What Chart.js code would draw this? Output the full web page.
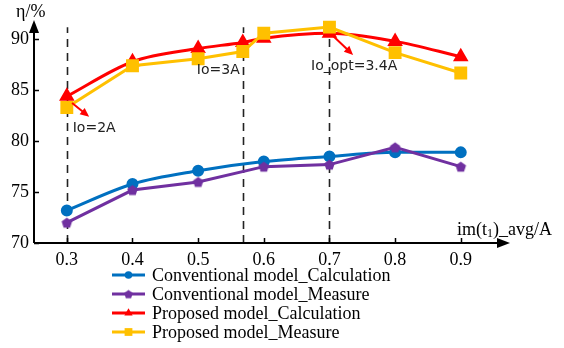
<!DOCTYPE html>
<html>
<head>
<meta charset="utf-8">
<script src="https://cdn.jsdelivr.net/npm/chart.js@4/dist/chart.umd.min.js"></script>
<style>
  html, body { margin: 0; padding: 0; background: #fff; }
  #wrap { width: 564px; height: 348px; }
</style>
</head>
<body>
<div id="wrap"><canvas id="chart" width="564" height="348"></canvas></div>
<script>
// data
const xConv = [0.3, 0.4, 0.5, 0.6, 0.7, 0.8, 0.9];
const convCalc = [73.2, 75.8, 77.1, 78.0, 78.5, 78.9, 78.9];
const convMeas = [72.0, 75.2, 76.0, 77.5, 77.7, 79.4, 77.5];

const xProp = [0.3, 0.4, 0.5, 0.568, 0.6, 0.7, 0.8, 0.9];
const propCalc = [84.4, 87.8, 89.1, 89.7, 90.1, 90.6, 89.8, 88.3];
const propMeas = [83.3, 87.4, 88.1, 88.8, 90.6, 91.2, 88.7, 86.7];

const xTicks = [0.3, 0.4, 0.5, 0.6, 0.7, 0.8, 0.9];
const yTicks = [70, 75, 80, 85, 90];

const seriesNames = [
    'Conventional model_Calculation',
    'Conventional model_Measure',
    'Proposed model_Calculation',
    'Proposed model_Measure'
];

// dashed marker lines and the notes on them
const markLines = [0.3, 0.568, 0.7];
const notes = [
    { text: 'Io=2A', x: 0.309, y: 81.3, from: [0.308, 83.75], to: [0.334, 82.4] },
    { text: 'Io=3A', x: 0.498, y: 86.95 },
    { text: 'Io_opt=3.4A', x: 0.672, y: 87.3, from: [0.704, 90.43], to: [0.736, 88.47] }
];

const BLUE = '#0070c0';
const PURPLE = '#7030a0';
const RED = '#ff0000';
const GOLD = '#ffc000';
const SERIF = '"Liberation Serif", "Times New Roman", serif';
const SANS = '"DejaVu Sans", sans-serif';

// pentagon marker for the purple series
function pentagon(color, r) {
    const c = document.createElement('canvas');
    c.width = c.height = r * 2 + 2;
    const g = c.getContext('2d');
    g.fillStyle = color;
    g.beginPath();
    for (let i = 0; i < 5; i++) {
        const a = -Math.PI / 2 + i * 2 * Math.PI / 5;
        const px = r + 1 + r * Math.cos(a), py = r + 1 + r * Math.sin(a) + 0.5;
        if (i === 0) g.moveTo(px, py); else g.lineTo(px, py);
    }
    g.closePath();
    g.fill();
    return c;
}
const penta = pentagon(PURPLE, 5.5);
const pentaSmall = pentagon(PURPLE, 4.5);

function pts(xs, ys) { return xs.map((x, i) => ({ x: x, y: ys[i] })); }

const decor = {
    id: 'decor',
    beforeDatasetsDraw(chart) {
        const ctx = chart.ctx, xs = chart.scales.x, ys = chart.scales.y;
        ctx.save();
        ctx.strokeStyle = '#222';
        ctx.lineWidth = 1.6;
        ctx.setLineDash([8, 6]);
        markLines.forEach(v => {
            const px = Math.round(xs.getPixelForValue(v)) + 0.5;
            ctx.beginPath();
            ctx.moveTo(px, ys.getPixelForValue(70));
            ctx.lineTo(px, ys.getPixelForValue(91.2));
            ctx.stroke();
        });
        ctx.restore();
    },
    afterDatasetsDraw(chart) {
        const ctx = chart.ctx, xs = chart.scales.x, ys = chart.scales.y;
        const a = chart.chartArea;
        ctx.save();
        // axes
        ctx.strokeStyle = '#000';
        ctx.fillStyle = '#000';
        ctx.lineWidth = 2;
        ctx.beginPath();
        ctx.moveTo(a.left, a.bottom);
        ctx.lineTo(a.left, a.top + 8);
        ctx.moveTo(a.left, a.bottom);
        ctx.lineTo(a.right - 8, a.bottom);
        ctx.stroke();
        ctx.beginPath();
        ctx.moveTo(a.left, a.top);
        ctx.lineTo(a.left - 5, a.top + 13);
        ctx.lineTo(a.left + 5, a.top + 13);
        ctx.closePath();
        ctx.fill();
        ctx.beginPath();
        ctx.moveTo(a.right, a.bottom);
        ctx.lineTo(a.right - 13, a.bottom - 5);
        ctx.lineTo(a.right - 13, a.bottom + 5);
        ctx.closePath();
        ctx.fill();
        ctx.lineWidth = 1.5;
        ctx.beginPath();
        yTicks.forEach(v => {
            const py = Math.round(ys.getPixelForValue(v)) + 0.5;
            ctx.moveTo(a.left, py);
            ctx.lineTo(a.left + 5, py);
        });
        xTicks.forEach(v => {
            const px = Math.round(xs.getPixelForValue(v)) + 0.5;
            ctx.moveTo(px, a.bottom);
            ctx.lineTo(px, a.bottom - 5);
        });
        ctx.stroke();

        // axis titles
        ctx.font = '18px ' + SERIF;
        ctx.textBaseline = 'middle';
        ctx.textAlign = 'left';
        ctx.fillText('η/%', 16, 12);
        let tx = 457, ty = 230;
        ctx.fillText('im(t', tx, ty);
        tx += ctx.measureText('im(t').width;
        ctx.font = '12px ' + SERIF;
        ctx.fillText('1', tx, ty + 4);
        tx += ctx.measureText('1').width;
        ctx.font = '18px ' + SERIF;
        ctx.fillText(')_avg/A', tx, ty);

        // notes and arrows
        ctx.font = '14px ' + SANS;
        ctx.fillStyle = '#222';
        notes.forEach(n => {
            ctx.fillText(n.text, xs.getPixelForValue(n.x), ys.getPixelForValue(n.y));
            if (!n.from) return;
            const x0 = xs.getPixelForValue(n.from[0]), y0 = ys.getPixelForValue(n.from[1]);
            const x1 = xs.getPixelForValue(n.to[0]), y1 = ys.getPixelForValue(n.to[1]);
            const ang = Math.atan2(y1 - y0, x1 - x0);
            ctx.strokeStyle = RED;
            ctx.fillStyle = RED;
            ctx.lineWidth = 2;
            ctx.beginPath();
            ctx.moveTo(x0, y0);
            ctx.lineTo(x1 - 6 * Math.cos(ang), y1 - 6 * Math.sin(ang));
            ctx.stroke();
            ctx.beginPath();
            ctx.moveTo(x1, y1);
            ctx.lineTo(x1 - 9 * Math.cos(ang) + 4 * Math.sin(ang), y1 - 9 * Math.sin(ang) - 4 * Math.cos(ang));
            ctx.lineTo(x1 - 9 * Math.cos(ang) - 4 * Math.sin(ang), y1 - 9 * Math.sin(ang) + 4 * Math.cos(ang));
            ctx.closePath();
            ctx.fill();
            ctx.fillStyle = '#222';
        });

        // legend
        const rows = [275, 294, 313, 332];
        const legendStyles = ['circle', pentaSmall, 'triangle', 'rect'];
        const legendSizes = [3.8, 4.5, 4.8, 5.5];
        seriesNames.forEach((name, i) => {
            const ds = chart.data.datasets[i];
            const y = rows[i];
            ctx.strokeStyle = ds.borderColor;
            ctx.lineWidth = 3;
            ctx.beginPath();
            ctx.moveTo(112, y);
            ctx.lineTo(145, y);
            ctx.stroke();
            ctx.fillStyle = ds.pointBackgroundColor;
            Chart.helpers.drawPoint(ctx, {
                pointStyle: legendStyles[i],
                radius: legendSizes[i],
                borderWidth: 0,
                rotation: 0
            }, 128.5, y);
            ctx.font = '18px ' + SERIF;
            ctx.fillStyle = '#000';
            ctx.fillText(name, 152, y + 1);
        });
        ctx.restore();
    }
};

new Chart(document.querySelector('#chart').getContext('2d'), {
    type: 'line',
    data: {
        datasets: [
            {
                label: seriesNames[0],
                data: pts(xConv, convCalc),
                borderColor: BLUE,
                backgroundColor: BLUE,
                pointBackgroundColor: BLUE,
                pointStyle: 'circle',
                pointRadius: 4.5,
                borderWidth: 3,
                cubicInterpolationMode: 'monotone',
                order: 4
            },
            {
                label: seriesNames[1],
                data: pts(xConv, convMeas),
                borderColor: PURPLE,
                backgroundColor: PURPLE,
                pointBackgroundColor: PURPLE,
                pointStyle: penta,
                pointRadius: 6,
                borderWidth: 3,
                order: 3
            },
            {
                label: seriesNames[2],
                data: pts(xProp, propCalc),
                borderColor: RED,
                backgroundColor: RED,
                pointBackgroundColor: RED,
                pointStyle: 'triangle',
                pointRadius: 6,
                borderWidth: 3,
                cubicInterpolationMode: 'monotone',
                order: 2
            },
            {
                label: seriesNames[3],
                data: pts(xProp, propMeas),
                borderColor: GOLD,
                backgroundColor: GOLD,
                pointBackgroundColor: GOLD,
                pointStyle: 'rect',
                pointRadius: 7,
                borderWidth: 3,
                order: 1
            }
        ]
    },
    options: {
        responsive: false,
        animation: false,
        events: [],
        layout: { padding: { left: 0, right: 54, top: 20, bottom: 80 } },
        plugins: { legend: { display: false }, tooltip: { enabled: false } },
        elements: { point: { borderWidth: 0, hoverRadius: 0 } },
        scales: {
            x: {
                type: 'linear',
                min: 0.25,
                max: 0.975,
                grid: { display: false, drawTicks: false },
                border: { display: false },
                afterBuildTicks: s => { s.ticks = xTicks.map(v => ({ value: v })); },
                afterFit: s => { s.height = 25; },
                ticks: {
                    color: '#000',
                    padding: 6,
                    maxRotation: 0,
                    font: { family: SERIF, size: 18 },
                    callback: v => v.toFixed(1)
                }
            },
            y: {
                min: 70,
                max: 91.9,
                grid: { display: false, drawTicks: false },
                border: { display: false },
                afterBuildTicks: s => { s.ticks = yTicks.map(v => ({ value: v })); },
                afterFit: s => { s.width = 34; },
                ticks: {
                    color: '#000',
                    padding: 5,
                    font: { family: SERIF, size: 18 }
                }
            }
        }
    },
    plugins: [decor]
});
</script>
</body>
</html>
